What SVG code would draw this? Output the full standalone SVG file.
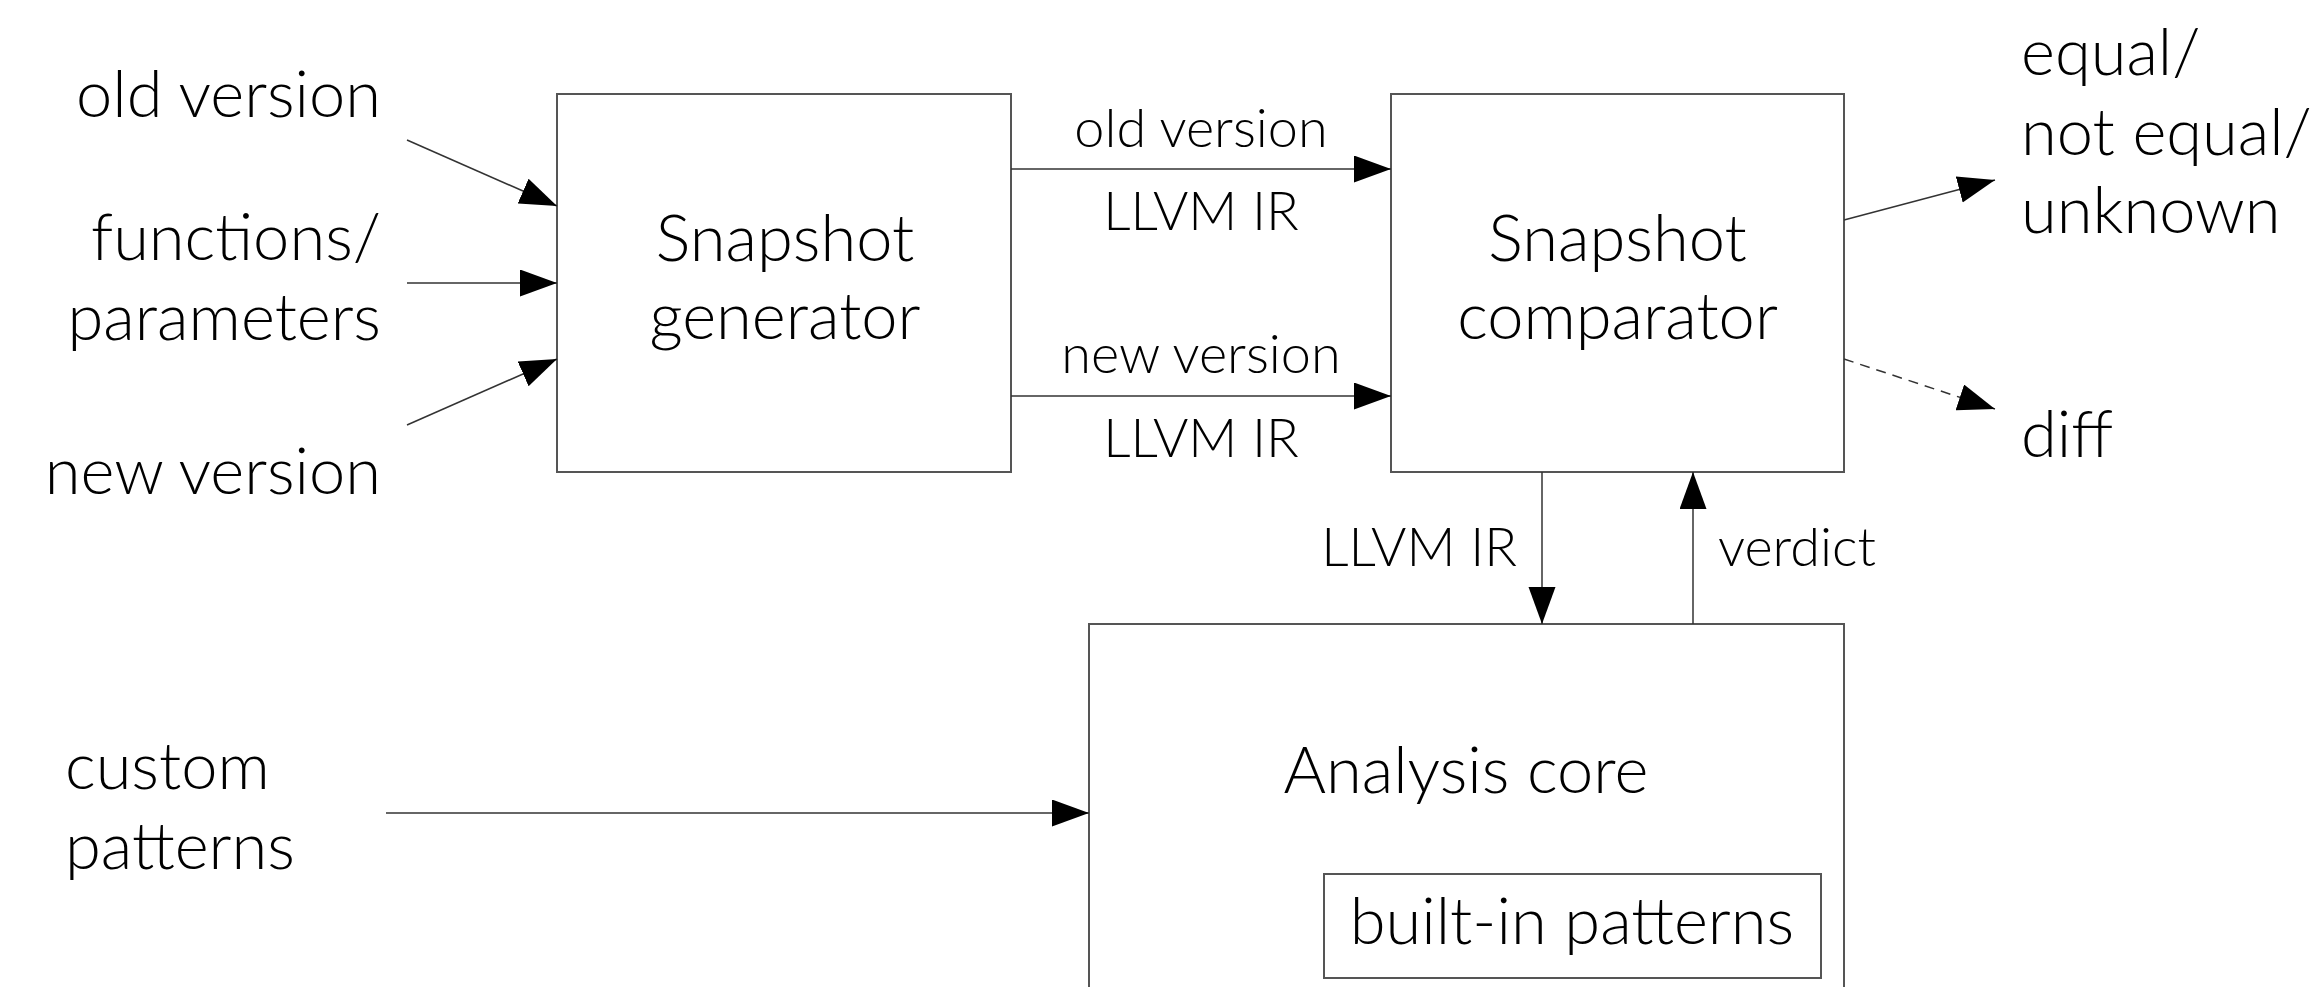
<svg xmlns="http://www.w3.org/2000/svg" width="2324" height="987" viewBox="0 0 2324 987">
  <style>
    .box { fill: #ffffff; stroke: #555555; stroke-width: 2; }
    .edge { fill: none; stroke: #333333; stroke-width: 1.5; }
    .dash { stroke-dasharray: 10 7; }
    text { font-family: Lato, "Open Sans", "Liberation Sans", sans-serif; font-weight: 300; fill: #000000; }
    .big { font-size: 65px; }
    .small { font-size: 54px; }
    .mid { text-anchor: middle; }
    .end { text-anchor: end; }
  </style>
  <defs>
    <marker id="head" markerUnits="userSpaceOnUse" markerWidth="38" markerHeight="28" refX="37" refY="13.5" orient="auto">
      <path d="M0,0 L37,13.5 L0,27 Z" fill="#000000"/>
    </marker>
  </defs>
  <rect width="2324" height="987" fill="#ffffff"/>

  <!-- inputs on the left -->
  <g id="input-old">
    <text class="big end" x="381" y="117">old version</text>
  </g>
  <g id="input-functions">
    <text class="big end" x="381" y="260">functions/</text>
    <text class="big end" x="381" y="340">parameters</text>
  </g>
  <g id="input-new">
    <text class="big end" x="381" y="494">new version</text>
  </g>
  <g id="input-custom">
    <text class="big" x="65" y="789">custom</text>
    <text class="big" x="65" y="869">patterns</text>
  </g>

  <!-- processing blocks -->
  <g id="snapshot-generator">
    <rect class="box" x="557" y="94" width="454" height="378"/>
    <text class="big mid" x="785" y="261">Snapshot</text>
    <text class="big mid" x="785" y="339">generator</text>
  </g>
  <g id="snapshot-comparator">
    <rect class="box" x="1391" y="94" width="453" height="378"/>
    <text class="big mid" x="1617.5" y="261">Snapshot</text>
    <text class="big mid" x="1617.5" y="339">comparator</text>
  </g>
  <g id="analysis-core">
    <rect class="box" x="1089" y="624" width="755" height="420"/>
    <text class="big mid" x="1466" y="793">Analysis core</text>
  </g>
  <g id="built-in-patterns">
    <rect class="box" x="1324" y="874" width="497" height="104"/>
    <text class="big mid" x="1572" y="944">built-in patterns</text>
  </g>

  <!-- outputs on the right -->
  <g id="output-verdict">
    <text class="big" x="2021" y="75">equal/</text>
    <text class="big" x="2021" y="155">not equal/</text>
    <text class="big" x="2021" y="233">unknown</text>
  </g>
  <g id="output-diff">
    <text class="big" x="2021" y="457">diff</text>
  </g>

  <!-- connectors -->
  <g id="connectors">
    <line class="edge" x1="407" y1="140" x2="557" y2="206" marker-end="url(#head)"/>
    <line class="edge" x1="407" y1="283" x2="557" y2="283" marker-end="url(#head)"/>
    <line class="edge" x1="407" y1="425" x2="557" y2="359" marker-end="url(#head)"/>

    <line class="edge" x1="1011" y1="169" x2="1391" y2="169" marker-end="url(#head)"/>
    <text class="small mid" x="1201" y="147">old version</text>
    <text class="small mid" x="1201" y="230">LLVM IR</text>

    <line class="edge" x1="1011" y1="396" x2="1391" y2="396" marker-end="url(#head)"/>
    <text class="small mid" x="1201" y="373">new version</text>
    <text class="small mid" x="1201" y="457">LLVM IR</text>

    <line class="edge" x1="1542" y1="472" x2="1542" y2="624" marker-end="url(#head)"/>
    <text class="small end" x="1517" y="566">LLVM IR</text>
    <line class="edge" x1="1693" y1="624" x2="1693" y2="472" marker-end="url(#head)"/>
    <text class="small" x="1718" y="566">verdict</text>

    <line class="edge" x1="386" y1="813" x2="1089" y2="813" marker-end="url(#head)"/>

    <line class="edge" x1="1844" y1="220" x2="1995" y2="180" marker-end="url(#head)"/>
    <line class="edge dash" x1="1844" y1="359" x2="1995" y2="409" marker-end="url(#head)"/>
  </g>
</svg>
